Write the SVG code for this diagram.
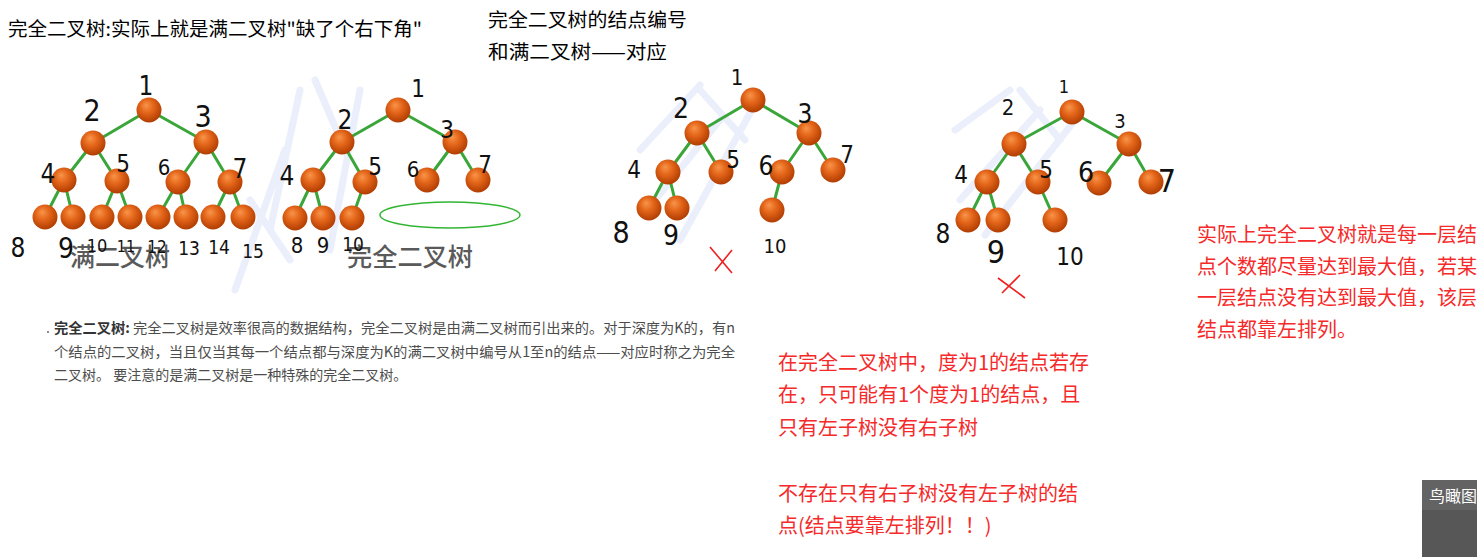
<svg xmlns="http://www.w3.org/2000/svg" width="1477" height="557" viewBox="0 0 1477 557">
<defs>
<radialGradient id="ball" cx="45%" cy="40%" r="60%" fx="38%" fy="30%">
<stop offset="0" stop-color="#f8954a"/>
<stop offset="0.45" stop-color="#e4661a"/>
<stop offset="1" stop-color="#b13d02"/>
</radialGradient>
<style>
.n{fill:url(#ball)}
.e{stroke:#3aa63a;stroke-width:3;fill:none}
.hw{font-family:"DejaVu Sans Condensed","DejaVu Sans","Liberation Sans",sans-serif;font-weight:200;fill:#111;text-anchor:middle}
.cap{font-family:"Noto Sans CJK SC",sans-serif;font-size:25px;fill:#5a5a5a;font-weight:500}
.blk{font-family:"Noto Sans CJK SC",sans-serif;font-size:19px;fill:#000}
.par{font-family:"Noto Sans CJK SC",sans-serif;font-size:14px;fill:#4d4d4d}
.red{font-family:"Noto Sans CJK SC",sans-serif;font-size:20px;fill:#f52a2a}
.x{stroke:#f02020;stroke-width:1.6;fill:none}
.wm{stroke:#e4eaf9;stroke-width:7;fill:none;stroke-linecap:round;opacity:0.75}
</style>
</defs>
<rect width="1477" height="557" fill="#fff"/>

<g id="watermark">
<path class="wm" d="M235 290 L285 150 M250 200 L290 260 M300 90 L270 230 M315 80 L345 150 M360 90 L330 250"/>
<path class="wm" d="M640 150 L700 85 M655 200 L720 120 M680 240 L760 95 M700 90 L745 140"/>
<path class="wm" d="M955 130 L1010 90 M960 200 L1040 110 M985 235 L1075 120 M1020 90 L1060 140"/>
</g>

<g id="texts-top">
<text class="blk" x="8" y="36" textLength="414" lengthAdjust="spacingAndGlyphs">完全二叉树:实际上就是满二叉树"缺了个右下角"</text>
<text class="blk" x="488" y="27" textLength="199" lengthAdjust="spacingAndGlyphs">完全二叉树的结点编号</text>
<text class="blk" x="488" y="59" textLength="179" lengthAdjust="spacingAndGlyphs">和满二叉树——对应</text>
</g>

<g id="connectors">
<path class="e" d="M149 110 L93 143 M149 110 L206 142 M93 143 L64 180 M93 143 L117 181 M206 142 L178 182 M206 142 L230 182 M64 180 L45 217 M64 180 L73 217 M117 181 L102 217 M117 181 L130 217 M178 182 L158 217 M178 182 L186 217 M230 182 L213 217 M230 182 L243 217"/>
<path class="e" d="M398 110 L342 142 M398 110 L455 142 M342 142 L313 180 M342 142 L365 182 M455 142 L427 180 M455 142 L478 180 M313 180 L295 218 M313 180 L323 218 M365 182 L352 218"/>
<path class="e" d="M753 100 L697 133 M753 100 L809 133 M697 133 L668 172 M697 133 L721 172 M809 133 L782 172 M809 133 L833 170 M668 172 L649 208 M668 172 L677 208 M782 172 L772 210"/>
<path class="e" d="M1072 112 L1014 144 M1072 112 L1129 144 M1014 144 L987 182 M1014 144 L1038 182 M1129 144 L1099 183 M1129 144 L1151 182 M987 182 L968 220 M987 182 L998 220 M1038 182 L1055 220"/>
</g>

<g id="tree1">
<circle class="n" cx="149" cy="110" r="12.5"/>
<circle class="n" cx="93" cy="143" r="12.5"/>
<circle class="n" cx="206" cy="142" r="12.5"/>
<circle class="n" cx="64" cy="180" r="12.5"/>
<circle class="n" cx="117" cy="181" r="12.5"/>
<circle class="n" cx="178" cy="182" r="12.5"/>
<circle class="n" cx="230" cy="182" r="12.5"/>
<circle class="n" cx="45" cy="217" r="12.5"/>
<circle class="n" cx="73" cy="217" r="12.5"/>
<circle class="n" cx="102" cy="217" r="12.5"/>
<circle class="n" cx="130" cy="217" r="12.5"/>
<circle class="n" cx="158" cy="217" r="12.5"/>
<circle class="n" cx="186" cy="217" r="12.5"/>
<circle class="n" cx="213" cy="217" r="12.5"/>
<circle class="n" cx="243" cy="217" r="12.5"/>
<text class="cap" x="70" y="266" textLength="100" lengthAdjust="spacingAndGlyphs">满二叉树</text>
<text class="hw" x="146" y="95" font-size="26">1</text>
<text class="hw" x="92" y="121" font-size="30">2</text>
<text class="hw" x="203" y="127" font-size="30">3</text>
<text class="hw" x="48" y="183" font-size="26">4</text>
<text class="hw" x="123" y="172" font-size="24">5</text>
<text class="hw" x="164" y="175" font-size="22">6</text>
<text class="hw" x="240" y="178" font-size="26">7</text>
<text class="hw" x="18" y="257" font-size="26">8</text>
<text class="hw" x="66" y="258" font-size="28">9</text>
<text class="hw" x="97" y="252" font-size="18">10</text>
<text class="hw" x="126" y="252" font-size="16">11</text>
<text class="hw" x="157" y="253" font-size="17">12</text>
<text class="hw" x="189" y="255" font-size="19">13</text>
<text class="hw" x="219" y="254" font-size="19">14</text>
<text class="hw" x="253" y="258" font-size="19">15</text>
</g>

<g id="tree2">
<circle class="n" cx="398" cy="110" r="12.5"/>
<circle class="n" cx="342" cy="142" r="12.5"/>
<circle class="n" cx="455" cy="142" r="12.5"/>
<circle class="n" cx="313" cy="180" r="12.5"/>
<circle class="n" cx="365" cy="182" r="12.5"/>
<circle class="n" cx="427" cy="180" r="12.5"/>
<circle class="n" cx="478" cy="180" r="12.5"/>
<circle class="n" cx="295" cy="218" r="12.5"/>
<circle class="n" cx="323" cy="218" r="12.5"/>
<circle class="n" cx="352" cy="218" r="12.5"/>
<ellipse cx="450" cy="215" rx="70" ry="13" fill="none" stroke="#33b533" stroke-width="1.5"/>
<text class="cap" x="347" y="266" textLength="126" lengthAdjust="spacingAndGlyphs">完全二叉树</text>
<text class="hw" x="418" y="97" font-size="24">1</text>
<text class="hw" x="345" y="129" font-size="26">2</text>
<text class="hw" x="447" y="138" font-size="24">3</text>
<text class="hw" x="287" y="185" font-size="26">4</text>
<text class="hw" x="375" y="175" font-size="24">5</text>
<text class="hw" x="413" y="177" font-size="22">6</text>
<text class="hw" x="485" y="173" font-size="24">7</text>
<text class="hw" x="297" y="253" font-size="22">8</text>
<text class="hw" x="323" y="253" font-size="22">9</text>
<text class="hw" x="353" y="251" font-size="19">10</text>
</g>

<g id="tree3">
<circle class="n" cx="753" cy="100" r="12.5"/>
<circle class="n" cx="697" cy="133" r="12.5"/>
<circle class="n" cx="809" cy="133" r="12.5"/>
<circle class="n" cx="668" cy="172" r="12.5"/>
<circle class="n" cx="721" cy="172" r="12.5"/>
<circle class="n" cx="782" cy="172" r="12.5"/>
<circle class="n" cx="833" cy="170" r="12.5"/>
<circle class="n" cx="649" cy="208" r="12.5"/>
<circle class="n" cx="677" cy="208" r="12.5"/>
<circle class="n" cx="772" cy="210" r="12.5"/>
<text class="hw" x="737" y="85" font-size="22">1</text>
<text class="hw" x="681" y="118" font-size="28">2</text>
<text class="hw" x="805" y="123" font-size="26">3</text>
<text class="hw" x="634" y="178" font-size="24">4</text>
<text class="hw" x="733" y="168" font-size="24">5</text>
<text class="hw" x="766" y="175" font-size="26">6</text>
<text class="hw" x="847" y="163" font-size="24">7</text>
<text class="hw" x="621" y="243" font-size="30">8</text>
<text class="hw" x="671" y="245" font-size="28">9</text>
<text class="hw" x="775" y="253" font-size="20">10</text>
<path class="x" d="M710 247 L732 273 M732 250 L715 271"/>
</g>

<g id="tree4">
<circle class="n" cx="1072" cy="112" r="12.5"/>
<circle class="n" cx="1014" cy="144" r="12.5"/>
<circle class="n" cx="1129" cy="144" r="12.5"/>
<circle class="n" cx="987" cy="182" r="12.5"/>
<circle class="n" cx="1038" cy="182" r="12.5"/>
<circle class="n" cx="1099" cy="183" r="12.5"/>
<circle class="n" cx="1151" cy="182" r="12.5"/>
<circle class="n" cx="968" cy="220" r="12.5"/>
<circle class="n" cx="998" cy="220" r="12.5"/>
<circle class="n" cx="1055" cy="220" r="12.5"/>
<text class="hw" x="1064" y="93" font-size="18">1</text>
<text class="hw" x="1008" y="115" font-size="22">2</text>
<text class="hw" x="1120" y="128" font-size="20">3</text>
<text class="hw" x="961" y="183" font-size="24">4</text>
<text class="hw" x="1046" y="178" font-size="24">5</text>
<text class="hw" x="1086" y="182" font-size="28">6</text>
<text class="hw" x="1167" y="192" font-size="32">7</text>
<text class="hw" x="943" y="243" font-size="26">8</text>
<text class="hw" x="996" y="263" font-size="32">9</text>
<text class="hw" x="1070" y="265" font-size="24">10</text>
<path class="x" d="M998 278 L1025 298 M1020 275 L1002 293"/>
</g>

<g id="paragraph">
<circle cx="48" cy="332" r="0.9" fill="#555"/>
<text class="par" x="54" y="333" textLength="681" lengthAdjust="spacingAndGlyphs"><tspan font-weight="bold" fill="#333">完全二叉树:</tspan> 完全二叉树是效率很高的数据结构，完全二叉树是由满二叉树而引出来的。对于深度为K的，有n</text>
<text class="par" x="54" y="357" textLength="681" lengthAdjust="spacingAndGlyphs">个结点的二叉树，当且仅当其每一个结点都与深度为K的满二叉树中编号从1至n的结点——对应时称之为完全</text>
<text class="par" x="54" y="380">二叉树。 要注意的是满二叉树是一种特殊的完全二叉树。</text>
</g>

<g id="red-note-1">
<text class="red" x="778" y="370">在完全二叉树中，度为1的结点若存</text>
<text class="red" x="778" y="402">在，只可能有1个度为1的结点，且</text>
<text class="red" x="778" y="435">只有左子树没有右子树</text>
<text class="red" x="778" y="501">不存在只有右子树没有左子树的结</text>
<text class="red" x="778" y="533">点(结点要靠左排列！！)</text>
</g>

<g id="red-note-2">
<text class="red" x="1197" y="242">实际上完全二叉树就是每一层结</text>
<text class="red" x="1197" y="274">点个数都尽量达到最大值，若某</text>
<text class="red" x="1197" y="305">一层结点没有达到最大值，该层</text>
<text class="red" x="1197" y="337">结点都靠左排列。</text>
</g>

<g id="birdview">
<rect x="1422" y="480" width="55" height="77" fill="#575757"/>
<rect x="1422" y="480" width="55" height="30" fill="#636363"/>
<text x="1429" y="502" font-family="Noto Sans CJK SC, sans-serif" font-size="16" fill="#fff">鸟瞰图</text>
</g>
</svg>
